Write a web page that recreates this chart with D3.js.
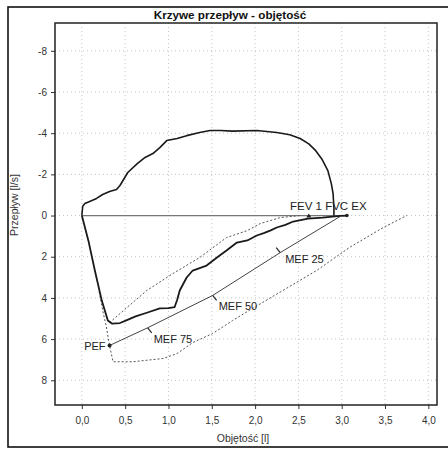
<!DOCTYPE html>
<html><head><meta charset="utf-8">
<script src="https://cdn.jsdelivr.net/npm/d3@7"></script>
<style>body{margin:0;background:#fff}svg{display:block}text{font-family:"Liberation Sans",Arial,sans-serif}</style>
</head><body><svg id="c" width="448" height="450"></svg>
<script>
const title = "Krzywe przepływ - objętość";
const xTitle = "Objętość [l]";
const yTitle = "Przepływ [l/s]";
const xTicks = [0, 0.5, 1, 1.5, 2, 2.5, 3, 3.5, 4];
const xTickLabels = ["0,0","0,5","1,0","1,5","2,0","2,5","3,0","3,5","4,0"];
const yTicks = [-8, -6, -4, -2, 0, 2, 4, 6, 8];
const yTickLabels = ["-8","-6","-4","-2","0","2","4","6","8"];

// measured inspiratory curve [volume, flow]
const inspiration = [[0,0],[0.01,-0.45],[0.035,-0.58],[0.09,-0.68],[0.17,-0.83],[0.24,-1.02],[0.32,-1.17],[0.40,-1.26],[0.44,-1.46],[0.53,-2.09],[0.64,-2.52],[0.73,-2.82],[0.82,-3.01],[0.90,-3.30],[0.98,-3.64],[1.10,-3.74],[1.21,-3.88],[1.36,-4.03],[1.48,-4.13],[1.60,-4.13],[1.74,-4.10],[2.02,-4.13],[2.25,-4.03],[2.40,-3.92],[2.52,-3.74],[2.62,-3.48],[2.70,-3.15],[2.77,-2.75],[2.84,-2.18],[2.88,-1.55],[2.90,-1.07],[2.91,-0.39],[2.91,0]];
// measured expiratory curve
const expiration = [[0,0],[0.08,1.30],[0.15,2.67],[0.23,4.13],[0.30,5.10],[0.35,5.25],[0.44,5.22],[0.52,5.08],[0.62,4.90],[0.75,4.72],[0.90,4.51],[1.00,4.50],[1.07,4.45],[1.10,4.10],[1.13,3.64],[1.21,3.01],[1.28,2.67],[1.44,2.43],[1.56,2.04],[1.67,1.70],[1.79,1.31],[1.91,1.21],[2.02,0.97],[2.10,0.85],[2.18,0.72],[2.25,0.58],[2.35,0.45],[2.44,0.29],[2.61,0.15],[2.78,0.10],[2.98,0.02],[3.06,0]];
// baseline
const baseline = [[0,0],[3.06,0]];
// predicted values line
const predicted = [[0.32,6.31],[0.76,5.45],[1.51,3.88],[2.29,1.80],[2.98,0.05]];
// predicted envelope (dotted)
const upperBound = [[0.32,5.2],[0.52,4.47],[0.75,3.64],[1.05,2.82],[1.36,2.04],[1.67,1.07],[1.91,0.73],[2.06,0.39],[2.29,0.10],[2.52,0]];
const lowerBound = [[0.20,3.70],[0.25,4.80],[0.28,5.34],[0.32,6.31],[0.36,7.10],[0.59,7.10],[0.94,6.94],[1.10,6.70],[1.28,6.17],[1.51,5.73],[1.74,5.10],[1.97,4.51],[2.32,3.64],[2.71,2.67],[3.09,1.55],[3.48,0.58],[3.75,0]];
// labelled markers
const markerNames = ["PEF","MEF 75","MEF 50","MEF 25"];
const markerPoints = [[0.32,6.31],[0.76,5.45],[1.51,3.88],[2.29,1.80]];
const endNames = "FEV 1 FVC EX";
const fev1Point = [2.62,0.05];
const exPoint = [3.06,0];

const svg = d3.select("#c");
const L=55, R=437, T=23, B=405;
const x = d3.scaleLinear().domain([-0.31,4.1]).range([L,R]);
const y = d3.scaleLinear().domain([-9.35,9.2]).range([T,B]);

// outer frame
svg.append("rect").attr("x",8).attr("y",7).attr("width",450).attr("height",440)
  .attr("fill","none").attr("stroke","#111").attr("stroke-width",1.6);

// grid
const g = svg.append("g");
g.selectAll(".gx").data(xTicks).join("line")
  .attr("x1",d=>x(d)).attr("x2",d=>x(d)).attr("y1",T).attr("y2",B)
  .attr("stroke","#c4c4c4").attr("stroke-dasharray","1,3");
g.selectAll(".gy").data(yTicks).join("line")
  .attr("y1",d=>y(d)).attr("y2",d=>y(d)).attr("x1",L).attr("x2",R)
  .attr("stroke","#c4c4c4").attr("stroke-dasharray","1,3");

// axes
const xa = svg.append("g").attr("transform",`translate(0,${B})`)
  .call(d3.axisBottom(x).tickValues(xTicks).tickFormat((d,i)=>xTickLabels[i]).tickSize(4).tickPadding(8));
const ya = svg.append("g").attr("transform",`translate(${L},0)`)
  .call(d3.axisLeft(y).tickValues(yTicks).tickFormat((d,i)=>yTickLabels[i]).tickSize(4).tickPadding(4));
[xa,ya].forEach(a=>{a.select(".domain").remove();a.selectAll("line").attr("stroke","#333");
  a.selectAll("text").attr("font-size",10).attr("fill","#333");});

// plot frame
svg.append("rect").attr("x",L).attr("y",T).attr("width",R-L).attr("height",B-T)
  .attr("fill","none").attr("stroke","#222").attr("stroke-width",1.5);

const line = d3.line().x(d=>x(d[0])).y(d=>y(d[1]));
svg.append("path").datum(baseline).attr("d",line).attr("fill","none").attr("stroke","#777").attr("stroke-width",1.2);
svg.append("path").datum(upperBound).attr("d",line).attr("fill","none").attr("stroke","#555").attr("stroke-width",1).attr("stroke-dasharray","2,2");
svg.append("path").datum(lowerBound).attr("d",line).attr("fill","none").attr("stroke","#555").attr("stroke-width",1).attr("stroke-dasharray","2,2");
svg.append("path").datum(predicted).attr("d",line).attr("fill","none").attr("stroke","#444").attr("stroke-width",1);
svg.append("path").datum(inspiration).attr("d",line).attr("fill","none").attr("stroke","#1a1a1a").attr("stroke-width",1.6).attr("stroke-linejoin","round");
svg.append("path").datum(expiration).attr("d",line).attr("fill","none").attr("stroke","#1a1a1a").attr("stroke-width",1.8).attr("stroke-linejoin","round");

// markers
const tickDir = [[0,0],[4,5],[4,5],[-4,-5]];
markerPoints.forEach((p,i)=>{
  if(i===0){svg.append("circle").attr("cx",x(p[0])).attr("cy",y(p[1])).attr("r",2).attr("fill","#222");}
  else svg.append("line").attr("x1",x(p[0])).attr("y1",y(p[1])).attr("x2",x(p[0])+tickDir[i][0]).attr("y2",y(p[1])+tickDir[i][1]).attr("stroke","#222").attr("stroke-width",1.2);
});
svg.append("path").attr("d",`M${x(fev1Point[0])-2.5},${y(fev1Point[1])+1}l2.5,-4l2.5,4z`).attr("fill","#222");
svg.append("circle").attr("cx",x(exPoint[0])).attr("cy",y(exPoint[1])).attr("r",1.8).attr("fill","#222");

const labOff = [[-4,5,"end"],[6,15,"start"],[6,15,"start"],[5,10,"start"]];
markerNames.forEach((n,i)=>{
  const p = markerPoints[i];
  svg.append("text").attr("x",x(p[0])+labOff[i][0]).attr("y",y(p[1])+labOff[i][1]).attr("text-anchor",labOff[i][2])
    .attr("font-size",11).attr("fill","#222").text(n);
});
svg.append("text").attr("x",290).attr("y",y(0)-6).attr("font-size",11.5).attr("fill","#222").text(endNames);

// titles
svg.append("text").attr("x",230).attr("y",19).attr("text-anchor","middle").attr("font-size",11.7).attr("font-weight","bold").attr("fill","#111").text(title);
svg.append("text").attr("x",243).attr("y",442).attr("text-anchor","middle").attr("font-size",10.5).attr("fill","#333").text(xTitle);
svg.append("text").attr("transform","translate(18,205) rotate(-90)").attr("text-anchor","middle").attr("font-size",10.5).attr("fill","#333").text(yTitle);
</script></body></html>
